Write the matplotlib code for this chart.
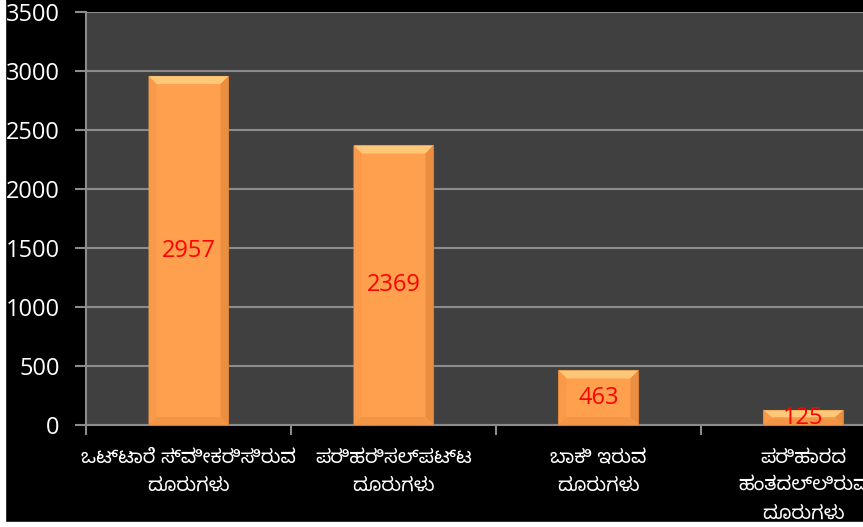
import matplotlib
matplotlib.use('Agg')
import matplotlib.pyplot as plt
from matplotlib.patches import Polygon, Rectangle
import numpy as np

categories = ['ಒಟ್ಟಾರೆ ಸ್ವೀಕರಿಸಿರುವ\nದೂರುಗಳು',
              'ಪರಿಹರಿಸಲ್ಪಟ್ಟ\nದೂರುಗಳು',
              'ಬಾಕಿ ಇರುವ\nದೂರುಗಳು',
              'ಪರಿಹಾರದ\nಹಂತದಲ್ಲಿರುವ\nದೂರುಗಳು']
values = [2957, 2369, 463, 125]
yticks = [0, 500, 1000, 1500, 2000, 2500, 3000, 3500]

num_font = ['Open Sans', 'DejaVu Sans']
kn_font = ['Noto Sans Kannada', 'DejaVu Sans']

fig = plt.figure(figsize=(8.63, 5.27), dpi=100, facecolor='black')
# plot area runs past the right edge, like the cropped original
ax = fig.add_axes([0.0997, 0.1935, 0.950, 0.7837])
ax.set_facecolor('#404040')

x = np.arange(len(values))
bw = 0.39
bars = ax.bar(x, values, width=bw, color='#FFA04F', edgecolor='#C8742E',
              linewidth=0.8, zorder=3)

ax.set_xlim(-0.5, 3.5)
ax.set_ylim(0, 3500)
ax.set_yticks(yticks)
ax.yaxis.grid(True, color='#8C8C8C', linewidth=1.5, zorder=0)
ax.set_axisbelow(True)

# bevel effect on each bar (sizes in pixels -> data units)
px_x = 1.0 / 205.0
px_y = 3500.0 / 413.0
for b in bars:
    x0, x1 = b.get_x(), b.get_x() + b.get_width()
    h = b.get_height()
    bx = 8 * px_x
    by = min(8 * px_y, h / 2.2)
    # top light strip
    ax.add_patch(Polygon([(x0, h), (x1, h), (x1 - bx, h - by), (x0 + bx, h - by)],
                         closed=True, color='#FFC878', zorder=4, lw=0))
    # left side
    ax.add_patch(Polygon([(x0, 0), (x0, h), (x0 + bx, h - by), (x0 + bx, by)],
                         closed=True, color='#F89A4A', zorder=4, lw=0))
    # right side
    ax.add_patch(Polygon([(x1, 0), (x1, h), (x1 - bx, h - by), (x1 - bx, by)],
                         closed=True, color='#EC8E40', zorder=4, lw=0))
    # bottom
    ax.add_patch(Polygon([(x0, 0), (x1, 0), (x1 - bx, by), (x0 + bx, by)],
                         closed=True, color='#F39546', zorder=4, lw=0))

for xi, v in zip(x, values):
    ax.text(xi, v / 2, str(v), ha='center', va='center', color='#FF0000',
            fontsize=17, family=num_font, zorder=5)

for s in ['top', 'right']:
    ax.spines[s].set_visible(False)
for s in ['left', 'bottom']:
    ax.spines[s].set_color('#8C8C8C')
    ax.spines[s].set_linewidth(1.5)

ax.tick_params(axis='y', colors='#8C8C8C', length=8, width=1.5, labelcolor='white',
               labelsize=17, pad=11)
for lab in ax.get_yticklabels():
    lab.set_family(num_font)

# category boundary ticks on the x axis, labels in the middle
ax.set_xticks(np.arange(-0.5, 4.0, 1.0))
ax.set_xticklabels([])
ax.tick_params(axis='x', colors='#8C8C8C', length=7, width=1.5)
for xi, lab in zip(x, categories):
    ax.text(xi, -190, lab, ha='center', va='top', color='white', fontsize=14,
            family=kn_font, linespacing=1.55)

# thin white margins left and bottom, as in the original screenshot
fig.add_artist(Rectangle((0, 0), 5 / 863, 1, transform=fig.transFigure,
                         color='white', zorder=10))
fig.add_artist(Rectangle((0, 0), 1, 5 / 527, transform=fig.transFigure,
                         color='white', zorder=10))

fig.savefig('out.png', dpi=100, facecolor='black')
